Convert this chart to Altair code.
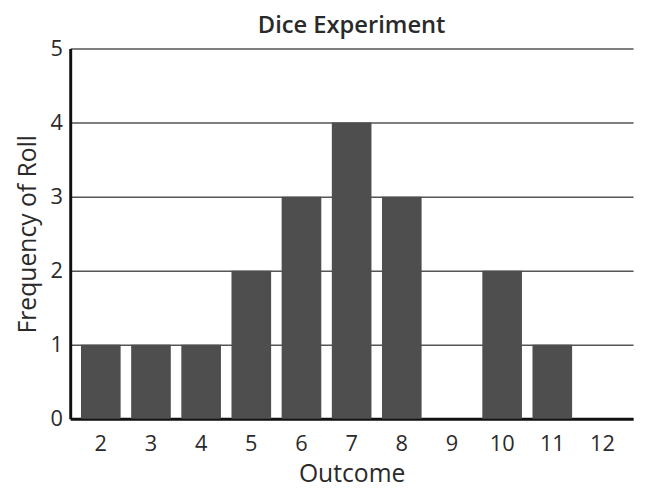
import altair as alt
import pandas as pd

outcomes = ["2", "3", "4", "5", "6", "7", "8", "9", "10", "11", "12"]
freqs = [1, 1, 1, 2, 3, 4, 3, 0, 2, 1, 0]

df = pd.DataFrame({"Outcome": outcomes, "Frequency": freqs})
FONT = "Open Sans"

chart = alt.Chart(df).mark_bar(color="#4e4e4e").encode(
    x=alt.X("Outcome:N", sort=outcomes, title="Outcome",
            scale=alt.Scale(paddingInner=0.21, paddingOuter=0.215),
            axis=alt.Axis(labelAngle=0, ticks=False, labelPadding=15, titlePadding=7,
                          labelFontSize=22, titleFontSize=25, labelFont=FONT, titleFont=FONT,
                          titleFontWeight="normal", labelColor="#2a2a2a", titleColor="#2a2a2a",
                          domainColor="#111", domainWidth=3)),
    y=alt.Y("Frequency:Q", title="Frequency of Roll",
            scale=alt.Scale(domain=[0, 5]),
            axis=alt.Axis(values=[0, 1, 2, 3, 4, 5], ticks=False, labelPadding=8, titlePadding=10,
                          labelFontSize=22, titleFontSize=25, labelFont=FONT, titleFont=FONT,
                          titleFontWeight="normal", labelColor="#2a2a2a", titleColor="#2a2a2a",
                          domainColor="#111", domainWidth=3, grid=True, gridColor="#555",
                          gridWidth=1.5)),
).properties(
    width=570, height=375,
    title=alt.TitleParams("Dice Experiment", font=FONT, fontSize=24, fontWeight=600,
                          color="#2a2a2a", offset=0),
    autosize=alt.AutoSizeParams(type="none"),
    padding={"left": 63, "top": 38, "right": 5, "bottom": 70},
).configure_view(stroke=None)

chart.save("out.html", embed_options={"renderer": "svg", "actions": False})
